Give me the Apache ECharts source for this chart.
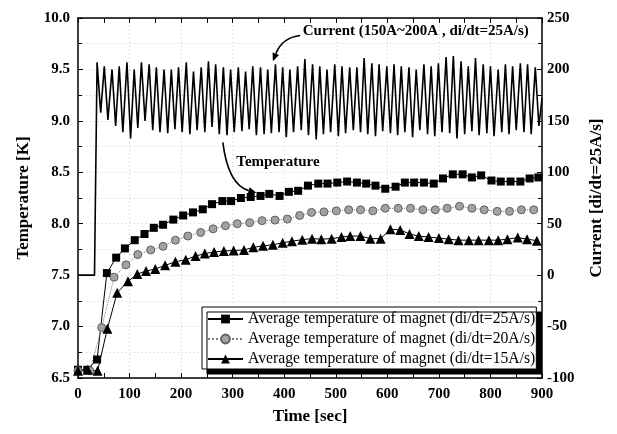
<!doctype html>
<html>
<head>
<meta charset="utf-8">
<title>Magnet temperature</title>
<script src="https://cdn.jsdelivr.net/npm/echarts@6/dist/echarts.min.js"></script>
<style>
  html, body { margin: 0; padding: 0; background: #fff; }
  #main { width: 617px; height: 434px; }
</style>
</head>
<body>
<div id="main"></div>
<script>
// time [s] / temperature [K] for the three ramp rates
var sqTime = [0, 18, 37, 56, 74, 91, 110, 129, 147, 165, 185, 204, 223, 242, 260, 280, 297, 316, 335, 354,
  371, 391, 409, 427, 446, 466, 484, 503, 522, 541, 559, 577, 596, 616, 634, 652, 671, 690, 708, 727,
  746, 764, 782, 802, 820, 839, 858, 876, 893];
var sqTemp = [6.58, 6.58, 6.68, 7.52, 7.67, 7.76, 7.84, 7.90, 7.96, 7.99, 8.04, 8.08, 8.11, 8.14, 8.19, 8.22, 8.22, 8.25, 8.26, 8.27,
  8.29, 8.27, 8.31, 8.32, 8.37, 8.39, 8.39, 8.40, 8.41, 8.40, 8.39, 8.37, 8.34, 8.36, 8.40, 8.40, 8.40, 8.39, 8.44, 8.48,
  8.48, 8.45, 8.47, 8.42, 8.41, 8.41, 8.41, 8.44, 8.45];

var ciTime = [0, 23, 46, 70, 93, 116, 141, 165, 189, 213, 238, 262, 286, 309, 333, 357, 382, 406, 430, 453,
  477, 501, 525, 548, 572, 596, 621, 645, 669, 693, 716, 740, 764, 788, 813, 837, 860, 884];
var ciTemp = [6.57, 6.57, 6.99, 7.48, 7.60, 7.70, 7.745, 7.78, 7.84, 7.88, 7.915, 7.95, 7.98, 8.0, 8.01, 8.03, 8.035, 8.045, 8.08, 8.11,
  8.115, 8.125, 8.135, 8.135, 8.125, 8.15, 8.15, 8.15, 8.135, 8.135, 8.15, 8.17, 8.15, 8.135, 8.12, 8.12, 8.135, 8.135];

var trTime = [0, 19, 38, 57, 76, 97, 115, 132, 150, 169, 189, 209, 228, 246, 264, 283, 302, 322, 340, 359,
  378, 397, 415, 435, 454, 472, 492, 511, 528, 548, 567, 587, 606, 625, 643, 661, 680, 700, 719, 738,
  758, 777, 797, 815, 833, 853, 871, 890];
var trTemp = [6.57, 6.58, 6.57, 6.98, 7.33, 7.44, 7.51, 7.54, 7.56, 7.595, 7.63, 7.65, 7.685, 7.71, 7.725, 7.735, 7.74, 7.745, 7.77, 7.785,
  7.795, 7.815, 7.83, 7.845, 7.855, 7.85, 7.855, 7.87, 7.88, 7.88, 7.855, 7.855, 7.945, 7.94, 7.90, 7.88, 7.87, 7.86, 7.85, 7.84,
  7.84, 7.84, 7.84, 7.84, 7.85, 7.865, 7.85, 7.835];

// current trace (right axis), peaks and troughs
var curTime = [0, 32, 37, 44, 51, 58, 66, 73, 80, 87, 95, 102, 109, 116, 123, 130, 138, 145, 152, 159,
  167, 174, 181, 188, 195, 202, 210, 217, 224, 231, 239, 246, 253, 260, 267, 274, 282, 289, 296, 303,
  311, 318, 325, 332, 339, 346, 354, 361, 368, 375, 383, 390, 397, 404, 411, 418, 426, 433, 440, 447,
  455, 462, 469, 476, 483, 490, 498, 505, 512, 519, 527, 534, 541, 548, 555, 562, 570, 577, 584, 591,
  599, 606, 613, 620, 627, 634, 642, 649, 656, 663, 671, 678, 685, 692, 699, 706, 714, 721, 728, 735,
  743, 750, 757, 764, 771, 778, 786, 793, 800, 807, 815, 822, 829, 836, 843, 850, 858, 865, 872, 879,
  887, 894, 900];
var curValue = [0, 0, 207, 158, 203, 151, 200, 145, 203, 139, 207, 133, 200, 143, 207, 150, 205, 141, 202, 139,
  200, 138, 200, 142, 202, 139, 207, 137, 198, 141, 202, 139, 208, 144, 205, 137, 202, 136, 200, 139,
  202, 140, 198, 142, 203, 136, 202, 137, 200, 138, 205, 139, 202, 134, 200, 139, 203, 141, 210, 136,
  205, 132, 203, 137, 200, 139, 205, 135, 203, 138, 202, 141, 202, 139, 211, 137, 206, 135, 205, 140,
  203, 138, 205, 136, 203, 139, 202, 134, 200, 141, 205, 137, 203, 135, 206, 139, 212, 138, 213, 133,
  208, 137, 203, 140, 211, 136, 205, 138, 203, 135, 200, 139, 205, 137, 203, 141, 206, 139, 205, 137,
  202, 145, 172];

var names = [
  'Average temperature of magnet (di/dt=25A/s)',
  'Average temperature of magnet (di/dt=20A/s)',
  'Average temperature of magnet (di/dt=15A/s)'
];

function pairs(xs, ys) {
  var out = [];
  for (var i = 0; i < xs.length; i++) out.push([xs[i], ys[i]]);
  return out;
}

var serif = 'Liberation Serif';
var labelStyle = { color: '#000', fontFamily: serif, fontWeight: 'bold', fontSize: 15 };
var nameStyle = { color: '#000', fontFamily: serif, fontWeight: 'bold', fontSize: 17 };
var axisLine = { show: true, onZero: false, lineStyle: { color: '#000', width: 1.5 } };
var dotted = { show: true, lineStyle: { color: '#cfcfcf', width: 1, type: [1, 3] } };

var chart = echarts.init(document.getElementById('main'));

var option = {
  animation: false,
  textStyle: { fontFamily: serif },
  grid: { left: 78, right: 75, top: 18, bottom: 56 },
  legend: {
    orient: 'vertical',
    left: 202,
    top: 307,
    padding: [4, 1, 2, 5],
    itemGap: 4,
    itemWidth: 35,
    itemHeight: 11,
    backgroundColor: '#fff',
    borderColor: '#000',
    borderWidth: 1,
    shadowColor: '#000',
    shadowBlur: 0,
    shadowOffsetX: 5,
    shadowOffsetY: 5,
    textStyle: { fontFamily: serif, fontSize: 15.7, color: '#000', lineHeight: 16 },
    data: names
  },
  xAxis: [{
    type: 'value', min: 0, max: 900, interval: 100,
    name: 'Time [sec]', nameLocation: 'middle', nameGap: 30, nameTextStyle: nameStyle,
    axisLine: axisLine,
    axisTick: { inside: true, length: 5, lineStyle: { color: '#000' } },
    minorTick: { show: true, splitNumber: 2, length: 5, lineStyle: { color: '#000' } },
    axisLabel: Object.assign({ margin: 9 }, labelStyle),
    splitLine: dotted
  }, {
    type: 'value', min: 0, max: 900, interval: 100, position: 'top',
    axisLine: axisLine,
    axisTick: { inside: true, length: 5, lineStyle: { color: '#000' } },
    minorTick: { show: true, splitNumber: 2, length: 5, lineStyle: { color: '#000' } },
    axisLabel: { show: false },
    splitLine: { show: false }
  }],
  yAxis: [{
    type: 'value', min: 6.5, max: 10, interval: 0.5,
    name: 'Temperature [K]', nameLocation: 'middle', nameGap: 46, nameRotate: 90, nameTextStyle: nameStyle,
    axisLine: axisLine,
    axisTick: { inside: true, length: 5, lineStyle: { color: '#000' } },
    minorTick: { show: true, splitNumber: 2, length: 4, lineStyle: { color: '#000' } },
    axisLabel: Object.assign({ margin: 8, formatter: function (v) { return v.toFixed(1); } }, labelStyle),
    splitLine: dotted,
    minorSplitLine: dotted
  }, {
    type: 'value', min: -100, max: 250, interval: 50, position: 'right',
    name: 'Current [di/dt=25A/s]', nameLocation: 'middle', nameGap: 46, nameRotate: 90, nameTextStyle: nameStyle,
    axisLine: axisLine,
    axisTick: { inside: true, length: 5, lineStyle: { color: '#000' } },
    minorTick: { show: true, splitNumber: 2, length: 4, lineStyle: { color: '#000' } },
    axisLabel: Object.assign({ margin: 5 }, labelStyle),
    splitLine: { show: false }
  }],
  series: [{
    name: 'Current',
    type: 'line',
    xAxisIndex: 0, yAxisIndex: 1,
    symbol: 'none',
    lineStyle: { color: '#000', width: 1.6 },
    data: pairs(curTime, curValue),
    z: 1
  }, {
    name: names[0],
    type: 'line',
    symbol: 'rect', symbolSize: 8,
    itemStyle: { color: '#000' },
    lineStyle: { color: '#000', width: 1 },
    data: pairs(sqTime, sqTemp)
  }, {
    name: names[1],
    type: 'line',
    symbol: 'circle', symbolSize: 8,
    itemStyle: { color: '#a2a2a2', borderColor: '#606060', borderWidth: 1 },
    lineStyle: { color: '#7a7a7a', width: 1, type: 'dotted' },
    data: pairs(ciTime, ciTemp)
  }, {
    name: names[2],
    type: 'line',
    symbol: 'triangle', symbolSize: 10,
    itemStyle: { color: '#000' },
    lineStyle: { color: '#000', width: 1 },
    data: pairs(trTime, trTemp)
  }]
};

chart.setOption(option);

// annotations, anchored in data space (time, temperature)
function px(t, v) { return chart.convertToPixel({ seriesIndex: 1 }, [t, v]); }

function arrow(from, ctrl, to) {
  var a = px(from[0], from[1]), c = px(ctrl[0], ctrl[1]), b = px(to[0], to[1]);
  var dx = b[0] - c[0], dy = b[1] - c[1];
  var len = Math.sqrt(dx * dx + dy * dy);
  dx /= len; dy /= len;
  var hl = 8, hw = 3.5;
  var base = [b[0] - dx * hl, b[1] - dy * hl];
  return [{
    type: 'bezierCurve',
    shape: { x1: a[0], y1: a[1], cpx1: c[0], cpy1: c[1], x2: base[0], y2: base[1] },
    style: { stroke: '#000', lineWidth: 1.6, fill: null },
    z: 100
  }, {
    type: 'polygon',
    shape: { points: [b, [base[0] - dy * hw, base[1] + dx * hw], [base[0] + dy * hw, base[1] - dx * hw]] },
    style: { fill: '#000' },
    z: 100
  }];
}

var curLabelPos = px(436, 9.87);
var tempLabelPos = px(307, 8.60);

var graphic = [{
  type: 'text', x: curLabelPos[0], y: curLabelPos[1],
  style: { text: 'Current (150A~200A , di/dt=25A/s)', font: 'bold 15px "Liberation Serif"', fill: '#000', verticalAlign: 'middle' },
  z: 100
}, {
  type: 'text', x: tempLabelPos[0], y: tempLabelPos[1],
  style: { text: 'Temperature', font: 'bold 15px "Liberation Serif"', fill: '#000', verticalAlign: 'middle' },
  z: 100
}];
graphic = graphic.concat(arrow([431, 9.83], [396, 9.81], [378, 9.58]));
graphic = graphic.concat(arrow([281, 8.79], [291, 8.38], [346, 8.30]));

chart.setOption({ graphic: graphic });
</script>
</body>
</html>
